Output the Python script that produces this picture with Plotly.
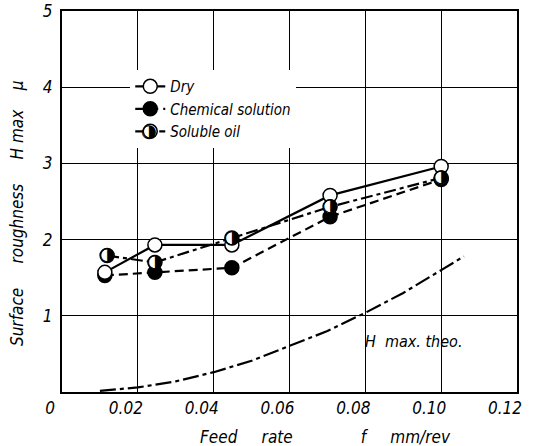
import plotly.graph_objects as go

# ---- data ----
feed_dry = [0.0113, 0.0245, 0.0448, 0.0707, 0.100]
h_dry = [1.57, 1.93, 1.93, 2.58, 2.96]

feed_chem = [0.0113, 0.0245, 0.0448, 0.0707, 0.100]
h_chem = [1.53, 1.57, 1.63, 2.30, 2.79]

feed_oil = [0.0119, 0.0245, 0.0448, 0.0707, 0.100]
h_oil = [1.79, 1.70, 2.02, 2.43, 2.81]

feed_theo = [0.010, 0.020, 0.030, 0.040, 0.050, 0.060, 0.070, 0.080, 0.090, 0.100, 0.106]
h_theo = [0.015, 0.06, 0.14, 0.26, 0.41, 0.60, 0.80, 1.04, 1.30, 1.60, 1.78]

x_ticks = [0, 0.02, 0.04, 0.06, 0.08, 0.10, 0.12]
x_tick_text = ["0", "0.02", "0.04", "0.06", "0.08", "0.10", "0.12"]
y_ticks = [1, 2, 3, 4, 5]
y_tick_text = ["1", "2", "3", "4", "5"]

FONT = "Liberation Sans Narrow, DejaVu Sans Condensed, Liberation Sans, sans-serif"

fig = go.Figure()

fig.add_trace(go.Scatter(
    x=feed_theo, y=h_theo, mode="lines", showlegend=False,
    line=dict(color="black", width=2.2, dash="16px,4px,4px,4px"),
    hoverinfo="skip"))

fig.add_trace(go.Scatter(
    x=feed_chem, y=h_chem, mode="lines+markers", name="Chemical solution",
    legendrank=2,
    line=dict(color="black", width=2.2, dash="9px,5px"),
    marker=dict(symbol="circle", size=14, color="black",
                line=dict(color="black", width=1.5))))

fig.add_trace(go.Scatter(
    x=feed_dry, y=h_dry, mode="lines+markers", name="Dry",
    legendrank=1,
    line=dict(color="black", width=2.2),
    marker=dict(symbol="circle", size=14, color="white",
                line=dict(color="black", width=1.5))))

fig.add_trace(go.Scatter(
    x=feed_oil, y=h_oil, mode="lines+markers", name="Soluble oil",
    legendrank=3,
    line=dict(color="black", width=2.2, dash="12px,4px,4px,4px"),
    marker=dict(symbol="circle", size=14, color="white",
                line=dict(color="black", width=1.5))))

fig.add_trace(go.Scatter(
    x=feed_oil, y=h_oil, mode="text", text=["◑"] * len(feed_oil),
    showlegend=False, hoverinfo="skip",
    textfont=dict(family="DejaVu Sans", size=18, color="black"),
    textposition="middle center"))

fig.add_annotation(
    x=0.0926, y=0.66, xref="x", yref="y", text="H  max. theo.",
    showarrow=False, font=dict(family=FONT, size=16, color="black", style="italic"))

fig.add_annotation(
    x=0.58, y=-0.15, xref="paper", yref="paper",
    text="Feed     rate              f     mm/rev",
    showarrow=False, font=dict(family=FONT, size=17, color="black", style="italic"))

fig.add_annotation(
    x=-0.125, y=0.47, xref="paper", yref="paper", textangle=-90,
    text="Surface     roughness     H max    μ",
    showarrow=False, font=dict(family=FONT, size=17, color="black", style="italic"))

# half-filled symbol for the "Soluble oil" legend entry
fig.add_annotation(
    x=0.169, y=0.719, xref="paper", yref="paper", text="◑",
    showarrow=False, font=dict(family="DejaVu Sans", size=18, color="black"))

fig.update_layout(
    width=540, height=446,
    margin=dict(l=62, r=23, t=11, b=54, autoexpand=False),
    paper_bgcolor="white", plot_bgcolor="white",
    font=dict(family=FONT, size=16, color="black", style="italic"),
    showlegend=True,
    legend=dict(x=0.15, y=0.845, xanchor="left", yanchor="top",
                bgcolor="white", borderwidth=0,
                font=dict(family=FONT, size=15, color="black", style="italic"),
                tracegroupgap=0, itemwidth=30),
    xaxis=dict(range=[0, 0.12], tickvals=x_ticks, ticktext=x_tick_text,
               showgrid=True, gridcolor="black", gridwidth=1,
               showline=True, linecolor="black", linewidth=2, mirror=True,
               ticks="", zeroline=False, ticklabelshift=-12, automargin=False,
               tickfont=dict(family=FONT, size=17, style="italic")),
    yaxis=dict(range=[0, 5], tickvals=y_ticks, ticktext=y_tick_text,
               showgrid=True, gridcolor="black", gridwidth=1,
               showline=True, linecolor="black", linewidth=2, mirror=True,
               ticks="", zeroline=False, ticklabelstandoff=4, automargin=False,
               tickfont=dict(family=FONT, size=17, style="italic")),
)

fig.write_html("out.html")
